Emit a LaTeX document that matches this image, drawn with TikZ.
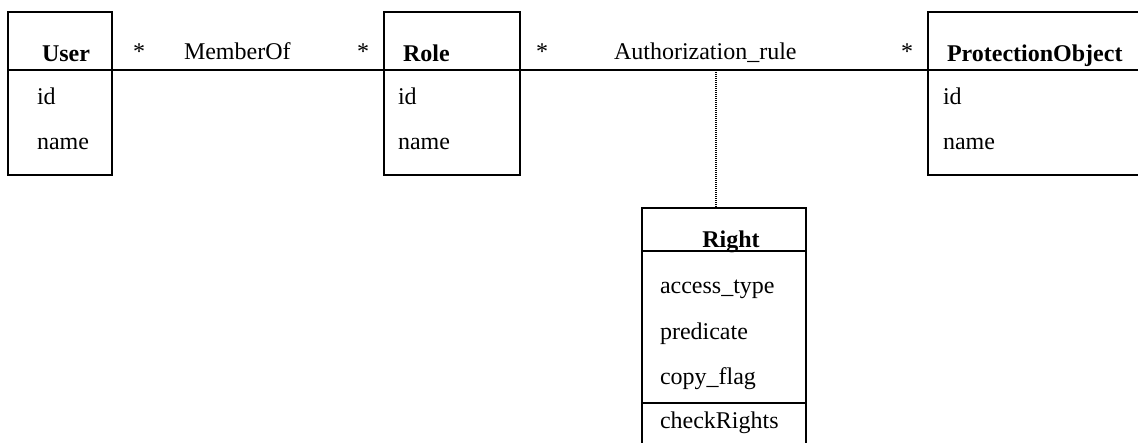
\documentclass[tikz,border=0pt]{standalone}
\usepackage{fontspec}
\setmainfont{Liberation Serif}
\usetikzlibrary{positioning}

\begin{document}
\begin{tikzpicture}[x=0.5pt,y=-0.5pt,line width=1pt,
    classbox/.style={draw,inner sep=0pt,anchor=north west},
    txt/.style={anchor=base west,inner sep=0pt,font=\fontsize{12}{14}\selectfont},
    title/.style={txt,font=\fontsize{12}{14}\selectfont\bfseries},
    mult/.style={txt,anchor=base}]
    \useasboundingbox (0,0) rectangle (1138,443);
    % classes
    \node[classbox,minimum width=52pt,minimum height=81.5pt] at (7,11) (user) {};
    \node[classbox,minimum width=68pt,minimum height=81.5pt] at (383,11) (role) {};
    \node[classbox,minimum width=110pt,minimum height=81.5pt] at (927,11) (protobj) {};
    \node[classbox,minimum width=82pt,minimum height=125pt] at (641,207) (right) {};
    \coordinate (hdr) at (0,70);
    \foreach \c in {user,role,protobj}
        \draw (\c.west |- hdr) -- (\c.east |- hdr);
    \draw (right.west |- 0,251) -- (right.east |- 0,251);
    \draw (right.west |- 0,403) -- (right.east |- 0,403);
    % associations
    \draw (user.east |- hdr) -- (role.west |- hdr);
    \draw (role.east |- hdr) -- (protobj.west |- hdr);
    \coordinate (rule) at (716,70);
    \draw[dash pattern=on 0.5pt off 0.5pt] (rule) -- (rule |- right.north);
    % labels
    \node[title] at (41,62) (usert) {User};
    \node[txt] at (36,105) (userid) {id};
    \node[txt] at (36,150) (username) {name};
    \node[title] at (402,62) (rolet) {Role};
    \node[txt] at (397,105) (roleid) {id};
    \node[txt] at (397,150) (rolename) {name};
    \node[title] at (946,62) (protobjt) {ProtectionObject};
    \node[txt] at (942,105) (protobjid) {id};
    \node[txt] at (942,150) (protobjname) {name};
    \node[title,anchor=base] at (731,247) (rightt) {Right};
    \node[txt] at (659,293) (access) {access\_type};
    \node[txt] at (659,339) (pred) {predicate};
    \node[txt] at (659,384) (copy) {copy\_flag};
    \node[txt] at (659,428) (check) {checkRights};
    \node[mult] at (139,60) (m1) {*};
    \node[txt] at (183,60) (memberof) {MemberOf};
    \node[mult] at (363,60) (m2) {*};
    \node[mult] at (542,60) (m3) {*};
    \node[txt] at (613,60) (authrule) {Authorization\_rule};
    \node[mult] at (907,60) (m4) {*};
\end{tikzpicture}
\end{document}
